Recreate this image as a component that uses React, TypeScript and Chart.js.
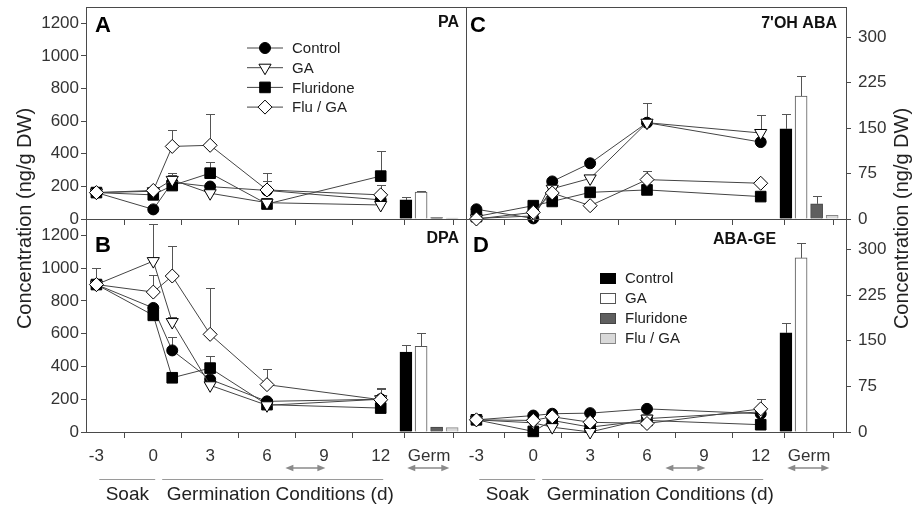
import React, { useEffect, useRef } from 'react';
import { Chart, registerables } from 'chart.js';
import { drawPoint } from 'chart.js/helpers';

Chart.register(...registerables);

// ---------------- data ----------------
const DAYS = [-3, 0, 1, 3, 6, 12];
const X_TICKS = [-3, 0, 3, 6, 9, 12];
const GERM_TICK = 14.55;
const GERM_LABEL = 'Germ';
const BAR_X = [13.33, 14.13, 14.95, 15.77];
const SERIES = ['Control', 'GA', 'Fluridone', 'Flu / GA'];
const LEFT_Y_TICKS = [0, 200, 400, 600, 800, 1000, 1200];
const RIGHT_Y_TICKS = [0, 75, 150, 225, 300];
const LEFT_Y_MAX = 1300;
const RIGHT_Y_MAX = 350;
const Y_TITLE = 'Concentration (ng/g DW)';
const SOAK_LABEL = 'Soak';
const GERM_COND_LABEL = 'Germination Conditions (d)';

// Panel A - PA
const PA_CONTROL = [162, 59, 225, 199, 175, 117];
const PA_GA = [162, 170, 240, 158, 100, 86];
const PA_FLURIDONE = [162, 148, 205, 281, 92, 263];
const PA_FLU_GA = [162, 175, 445, 452, 178, 148];
const PA_CONTROL_ERR = [null, null, null, null, 230, null];
const PA_GA_ERR = [null, null, 281, null, null, null];
const PA_FLURIDONE_ERR = [null, null, 270, 347, null, 414];
const PA_FLU_GA_ERR = [null, null, 548, 646, 281, 209];
const PA_GERM = [117, 165, 8, 5];
const PA_GERM_ERR = [133, 170, null, null];

// Panel B - DPA
const DPA_CONTROL = [900, 757, 498, 321, 187, 200];
const DPA_GA = [900, 1043, 671, 285, 163, 200];
const DPA_FLURIDONE = [900, 712, 331, 390, 167, 146];
const DPA_FLU_GA = [900, 854, 952, 596, 289, 197];
const DPA_CONTROL_ERR = [1000, null, 580, null, null, 264];
const DPA_GA_ERR = [null, 1271, 702, null, null, null];
const DPA_FLURIDONE_ERR = [null, null, null, 464, null, null];
const DPA_FLU_GA_ERR = [null, 960, 1135, 879, 386, 268];
const DPA_GERM = [488, 523, 30, 27];
const DPA_GERM_ERR = [529, 604, null, null];

// Panel C - 7'OH ABA
const OH_CONTROL = [16, 1, 62, 92, 159, 127];
const OH_GA = [1, 5, 50, 67, 159, 142];
const OH_FLURIDONE = [4, 22, 29, 44, 48, 37];
const OH_FLU_GA = [0, 11, 43, 22, 65, 59];
const OH_CONTROL_ERR = [null, null, null, null, null, null];
const OH_GA_ERR = [null, null, null, null, 191, 171];
const OH_FLURIDONE_ERR = [null, null, null, null, null, null];
const OH_FLU_GA_ERR = [null, null, null, null, 79, null];
const OH_GERM = [149, 203, 25, 6];
const OH_GERM_ERR = [173, 236, 38, null];

// Panel D - ABA-GE
const GE_CONTROL = [20, 27, 30, 31, 38, 30];
const GE_GA = [20, 15, 8, 0, 22, 33];
const GE_FLURIDONE = [20, 1, 19, 8, 19, 12];
const GE_FLU_GA = [20, 19, 25, 16, 14, 38];
const GE_CONTROL_ERR = [null, null, null, null, null, null];
const GE_GA_ERR = [null, null, null, null, null, null];
const GE_FLURIDONE_ERR = [null, null, null, null, null, null];
const GE_FLU_GA_ERR = [null, null, null, null, null, 55];
const GE_GERM = [163, 286, null, null];
const GE_GERM_ERR = [179, 311, null, null];

// ---------------- styles / layout ----------------
const W = 912;
const H = 506;
const X_MIN = -3.55;
const X_MAX = 16.5;
const COL_L = 86;
const COL_M = 466;
const COL_R = 846;
const ROW_T = 7;
const ROW_M = 219;
const ROW_B = 432;

const FONT = "'Liberation Sans', Arial, Helvetica, sans-serif";
const AXIS = '#4a4a4a';
const TICK_TXT = '#333';
const LINE_COLOR = '#444';
const ERR_COLOR = '#555';
const NOTE_GREY = '#8a8a8a';

const POINT_STYLE = ['circle', 'triangle', 'rect', 'rectRot'];
const POINT_ROT = [0, 180, 0, 0];
const POINT_RADIUS = [5.5, 7, 7.5, 7];
const POINT_FILL = ['#000', '#fff', '#000', '#fff'];
const LINE_ORDER = [3, 1, 2, 0];
const BAR_FILL = ['#000', '#fff', '#5f5f5f', '#d9d9d9'];
const BAR_BORDER = ['#000', '#555', '#444', '#888'];

const PANELS = [
  {
    letter: 'A', title: 'PA', side: 'left',
    area: { l: COL_L, t: ROW_T, r: COL_M, b: ROW_M },
    yMax: LEFT_Y_MAX, yTicks: LEFT_Y_TICKS,
    lines: [PA_CONTROL, PA_GA, PA_FLURIDONE, PA_FLU_GA],
    lineErr: [PA_CONTROL_ERR, PA_GA_ERR, PA_FLURIDONE_ERR, PA_FLU_GA_ERR],
    bars: PA_GERM, barErr: PA_GERM_ERR,
    xLabels: false, legend: 'line',
    letterPos: { dx: 9, dy: 25 }, titlePos: { align: 'right', dx: -7, dy: 20 },
  },
  {
    letter: 'B', title: 'DPA', side: 'left',
    area: { l: COL_L, t: ROW_M, r: COL_M, b: ROW_B },
    yMax: LEFT_Y_MAX, yTicks: LEFT_Y_TICKS,
    lines: [DPA_CONTROL, DPA_GA, DPA_FLURIDONE, DPA_FLU_GA],
    lineErr: [DPA_CONTROL_ERR, DPA_GA_ERR, DPA_FLURIDONE_ERR, DPA_FLU_GA_ERR],
    bars: DPA_GERM, barErr: DPA_GERM_ERR,
    xLabels: true, legend: null, yTitle: 'left',
    letterPos: { dx: 9, dy: 33 }, titlePos: { align: 'right', dx: -7, dy: 24 },
  },
  {
    letter: 'C', title: "7'OH ABA", side: 'right',
    area: { l: COL_M, t: ROW_T, r: COL_R, b: ROW_M },
    yMax: RIGHT_Y_MAX, yTicks: RIGHT_Y_TICKS,
    lines: [OH_CONTROL, OH_GA, OH_FLURIDONE, OH_FLU_GA],
    lineErr: [OH_CONTROL_ERR, OH_GA_ERR, OH_FLURIDONE_ERR, OH_FLU_GA_ERR],
    bars: OH_GERM, barErr: OH_GERM_ERR,
    xLabels: false, legend: null,
    letterPos: { dx: 4, dy: 25 }, titlePos: { align: 'right', dx: -9, dy: 21 },
  },
  {
    letter: 'D', title: 'ABA-GE', side: 'right',
    area: { l: COL_M, t: ROW_M, r: COL_R, b: ROW_B },
    yMax: RIGHT_Y_MAX, yTicks: RIGHT_Y_TICKS,
    lines: [GE_CONTROL, GE_GA, GE_FLURIDONE, GE_FLU_GA],
    lineErr: [GE_CONTROL_ERR, GE_GA_ERR, GE_FLURIDONE_ERR, GE_FLU_GA_ERR],
    bars: GE_GERM, barErr: GE_GERM_ERR,
    xLabels: true, legend: 'bar', yTitle: 'right',
    letterPos: { dx: 7, dy: 33 }, titlePos: { align: 'left', dx: 247, dy: 25 },
  },
];

function drawArrow(ctx: any, x1: number, x2: number, y: number) {
  const head = 8;
  const hw = 3.2;
  ctx.beginPath();
  ctx.moveTo(x1 + head - 1, y);
  ctx.lineTo(x2 - head + 1, y);
  ctx.stroke();
  ctx.beginPath();
  ctx.moveTo(x1, y);
  ctx.lineTo(x1 + head, y - hw);
  ctx.lineTo(x1 + head, y + hw);
  ctx.closePath();
  ctx.fill();
  ctx.beginPath();
  ctx.moveTo(x2, y);
  ctx.lineTo(x2 - head, y - hw);
  ctx.lineTo(x2 - head, y + hw);
  ctx.closePath();
  ctx.fill();
}

function decorPlugin(p: any) {
  return {
    id: 'decor' + p.letter,
    beforeDatasetsDraw(chart: any) {
      const { ctx, chartArea: a } = chart;
      const xs = chart.scales.x;
      const ys = chart.scales.y;
      ctx.save();
      // frame
      ctx.strokeStyle = AXIS;
      ctx.lineWidth = 1;
      ctx.strokeRect(Math.round(a.left) + 0.5, Math.round(a.top) + 0.5,
        Math.round(a.right) - Math.round(a.left), Math.round(a.bottom) - Math.round(a.top));
      // error bars (upper only)
      ctx.strokeStyle = ERR_COLOR;
      chart.data.datasets.forEach((ds: any) => {
        const err = ds.errTop;
        if (!err) return;
        ds.data.forEach((pt: any, i: number) => {
          const e = err[i];
          if (e == null || pt.y == null) return;
          const px = Math.round(xs.getPixelForValue(pt.x)) + 0.5;
          const py0 = ys.getPixelForValue(pt.y);
          const py1 = Math.round(ys.getPixelForValue(e)) + 0.5;
          ctx.beginPath();
          ctx.moveTo(px, py0);
          ctx.lineTo(px, py1);
          ctx.moveTo(px - 4.5, py1);
          ctx.lineTo(px + 4.5, py1);
          ctx.stroke();
        });
      });
      ctx.restore();
    },
    afterDraw(chart: any) {
      const { ctx, chartArea: a } = chart;
      const xs = chart.scales.x;
      ctx.save();
      // panel letter
      ctx.fillStyle = '#000';
      ctx.font = `bold 22px ${FONT}`;
      ctx.textAlign = 'left';
      ctx.textBaseline = 'alphabetic';
      ctx.fillText(p.letter, a.left + p.letterPos.dx, a.top + p.letterPos.dy);
      // title
      ctx.font = `bold 16px ${FONT}`;
      ctx.fillStyle = '#111';
      if (p.titlePos.align === 'right') {
        ctx.textAlign = 'right';
        ctx.fillText(p.title, a.right + p.titlePos.dx, a.top + p.titlePos.dy);
      } else {
        ctx.textAlign = 'left';
        ctx.fillText(p.title, a.left + p.titlePos.dx, a.top + p.titlePos.dy);
      }
      // legends
      if (p.legend === 'line') {
        ctx.font = `15px ${FONT}`;
        ctx.textBaseline = 'middle';
        ctx.textAlign = 'left';
        chart.data.datasets.filter((d: any) => d.type === 'line').forEach((ds: any, i: number) => {
          const y = a.top + 41 + i * 19.7;
          ctx.strokeStyle = LINE_COLOR;
          ctx.lineWidth = 1;
          ctx.beginPath();
          ctx.moveTo(a.left + 161, y);
          ctx.lineTo(a.left + 197, y);
          ctx.stroke();
          ctx.fillStyle = ds.pointBackgroundColor;
          ctx.strokeStyle = ds.pointBorderColor;
          drawPoint(ctx, {
            pointStyle: ds.pointStyle, rotation: ds.pointRotation,
            radius: ds.pointRadius, borderWidth: ds.pointBorderWidth,
          }, a.left + 179, y);
          ctx.fillStyle = '#222';
          ctx.fillText(ds.label, a.left + 206, y + 1);
        });
      }
      if (p.legend === 'bar') {
        ctx.font = `15px ${FONT}`;
        ctx.textBaseline = 'middle';
        ctx.textAlign = 'left';
        chart.data.datasets.filter((d: any) => d.type === 'bar').forEach((ds: any, i: number) => {
          const y = a.top + 59.3 + i * 20;
          ctx.fillStyle = ds.backgroundColor;
          ctx.strokeStyle = ds.borderColor;
          ctx.lineWidth = 1;
          ctx.fillRect(a.left + 134, Math.round(y - 5.5), 16, 11);
          ctx.strokeRect(a.left + 134.5, Math.round(y - 5.5) + 0.5, 15, 10);
          ctx.fillStyle = '#222';
          ctx.fillText(ds.label, a.left + 159, y + 1);
        });
      }
      // bottom annotations
      if (p.xLabels) {
        ctx.strokeStyle = NOTE_GREY;
        ctx.fillStyle = NOTE_GREY;
        ctx.lineWidth = 1.5;
        drawArrow(ctx, xs.getPixelForValue(6.97), xs.getPixelForValue(9.08), 468);
        drawArrow(ctx, xs.getPixelForValue(13.4), xs.getPixelForValue(15.62), 468);
        ctx.strokeStyle = '#9a9a9a';
        ctx.lineWidth = 1.2;
        ctx.beginPath();
        ctx.moveTo(xs.getPixelForValue(-2.85), 479.5);
        ctx.lineTo(xs.getPixelForValue(0.1), 479.5);
        ctx.moveTo(xs.getPixelForValue(0.47), 479.5);
        ctx.lineTo(xs.getPixelForValue(12.13), 479.5);
        ctx.stroke();
        ctx.fillStyle = '#222';
        ctx.font = `19px ${FONT}`;
        ctx.textAlign = 'center';
        ctx.textBaseline = 'middle';
        ctx.fillText(SOAK_LABEL, xs.getPixelForValue(-1.37), 495);
        ctx.fillText(GERM_COND_LABEL, xs.getPixelForValue(6.7), 495);
      }
      // y titles
      if (p.yTitle) {
        ctx.fillStyle = '#222';
        ctx.font = `20px ${FONT}`;
        ctx.textAlign = 'center';
        ctx.textBaseline = 'middle';
        const cx = p.yTitle === 'left' ? 25 : 902;
        ctx.translate(cx, (ROW_T + ROW_B) / 2 - 1);
        ctx.rotate(-Math.PI / 2);
        ctx.fillText(Y_TITLE, 0, 0);
      }
      ctx.restore();
    },
  };
}

function makeConfig(p: any) {
  const isLeft = p.side === 'left';
  const a = p.area;
  const datasets: any[] = [];
  p.lines.forEach((vals: number[], i: number) => {
    datasets.push({
      type: 'line',
      label: SERIES[i],
      data: DAYS.map((d, j) => ({ x: d, y: vals[j] })),
      errTop: p.lineErr[i],
      borderColor: LINE_COLOR,
      borderWidth: 1,
      tension: 0,
      fill: false,
      clip: false,
      pointStyle: POINT_STYLE[i],
      pointRotation: POINT_ROT[i],
      pointRadius: POINT_RADIUS[i],
      pointBackgroundColor: POINT_FILL[i],
      pointBorderColor: '#000',
      pointBorderWidth: 1,
      order: LINE_ORDER[i],
    });
  });
  p.bars.forEach((v: number | null, i: number) => {
    datasets.push({
      type: 'bar',
      label: SERIES[i],
      data: [{ x: BAR_X[i], y: v }],
      errTop: [p.barErr[i]],
      backgroundColor: BAR_FILL[i],
      borderColor: BAR_BORDER[i],
      borderWidth: 1,
      barThickness: 12,
      grouped: false,
      order: 10,
    });
  });
  const tickFont = { family: FONT, size: 17 };
  return {
    type: 'line',
    data: { datasets },
    options: {
      responsive: false,
      animation: false,
      devicePixelRatio: 1,
      events: [],
      layout: {
        autoPadding: false,
        padding: {
          left: isLeft ? 0 : a.l,
          right: isLeft ? W - a.r : 0,
          top: a.t,
          bottom: 0,
        },
      },
      plugins: { legend: { display: false }, tooltip: { enabled: false }, title: { display: false } },
      scales: {
        x: {
          type: 'linear',
          min: X_MIN,
          max: X_MAX,
          offset: false,
          afterBuildTicks: (s: any) => {
            s.ticks = [...X_TICKS, GERM_TICK].map((v) => ({ value: v }));
          },
          afterFit: (s: any) => {
            s.height = H - a.b;
            s.paddingLeft = 0;
            s.paddingRight = 0;
            s.paddingTop = 0;
            s.paddingBottom = 0;
          },
          border: { display: false },
          grid: { drawOnChartArea: false, drawTicks: true, tickLength: 6, tickColor: AXIS, tickWidth: 1 },
          ticks: {
            display: p.xLabels,
            autoSkip: false,
            maxRotation: 0,
            padding: 8,
            font: tickFont,
            color: TICK_TXT,
            callback: (v: number) => (v === GERM_TICK ? GERM_LABEL : String(v)),
          },
        },
        y: {
          type: 'linear',
          position: isLeft ? 'left' : 'right',
          min: 0,
          max: p.yMax,
          afterBuildTicks: (s: any) => {
            s.ticks = p.yTicks.map((v: number) => ({ value: v }));
          },
          afterFit: (s: any) => {
            s.width = isLeft ? a.l : W - a.r;
            s.paddingLeft = 0;
            s.paddingRight = 0;
            s.paddingTop = 0;
            s.paddingBottom = 0;
          },
          border: { display: false },
          grid: { drawOnChartArea: false, drawTicks: true, tickLength: 5, tickColor: AXIS, tickWidth: 1 },
          ticks: {
            autoSkip: false,
            padding: isLeft ? 2 : 7,
            font: tickFont,
            color: TICK_TXT,
            callback: (v: number) => String(v),
          },
        },
      },
    },
    plugins: [decorPlugin(p)],
  };
}

export default function App() {
  const r0 = useRef<HTMLCanvasElement | null>(null);
  const r1 = useRef<HTMLCanvasElement | null>(null);
  const r2 = useRef<HTMLCanvasElement | null>(null);
  const r3 = useRef<HTMLCanvasElement | null>(null);
  const refs = [r0, r1, r2, r3];
  useEffect(() => {
    const charts = PANELS.map((p, i) => new Chart(refs[i].current as any, makeConfig(p) as any));
    return () => charts.forEach((c) => c.destroy());
  }, []);
  return (
    <div style={{ position: 'absolute', left: 0, top: 0, width: W, height: H, background: '#fff', overflow: 'hidden' }}>
      {PANELS.map((p, i) => (
        <canvas
          key={p.letter}
          ref={refs[i]}
          width={W}
          height={H}
          style={{ position: 'absolute', left: 0, top: 0, width: W, height: H }}
        />
      ))}
    </div>
  );
}
